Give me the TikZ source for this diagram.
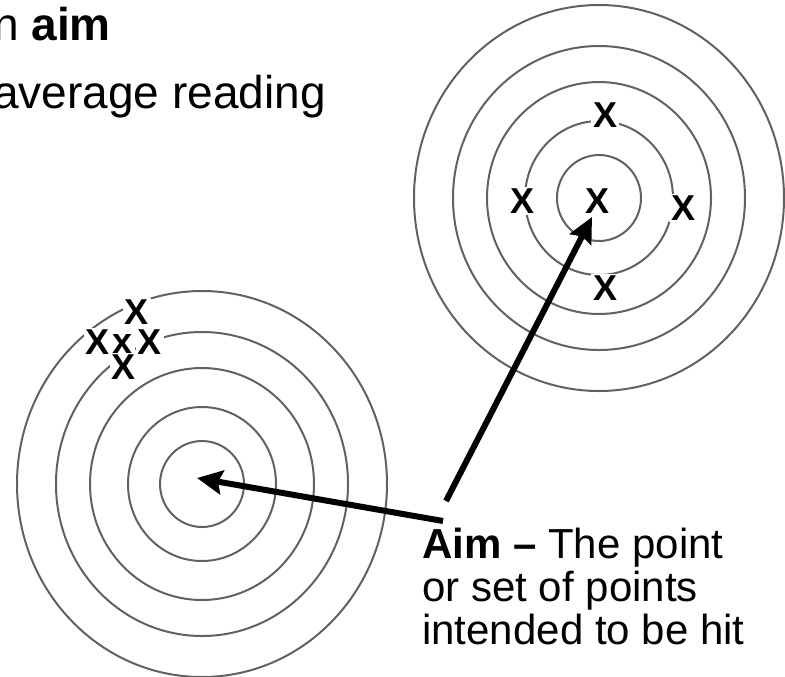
\documentclass[tikz,border=0pt]{standalone}
\usepackage{fontspec}
\setmainfont{Liberation Sans}
\usetikzlibrary{arrows.meta}

\begin{document}
\begin{tikzpicture}[x=0.75pt, y=-0.75pt,
  % Target rings and hit marks
  ring/.style={draw=black!62, line width=1.5pt},
  hitmark/.style={rectangle, fill=white, inner sep=1.5pt, font=\fontsize{27}{27}\selectfont\bfseries},
  % Text blocks
  headline/.style={anchor=base west, inner sep=0pt, align=left, font=\fontsize{34.5}{38.25}\selectfont},
  definition/.style={anchor=base west, inner sep=0pt, align=left, font=\fontsize{31.5}{32.25}\selectfont},
  % Thick pointer arrows
  pointer/.style={-{Stealth[length=19pt, width=18pt, inset=3pt]}, line width=4.5pt, black}
]

% Layer 1: Frame of the picture
\useasboundingbox (0,0) rectangle (785,676);
\clip (0,0) rectangle (785,676);

% Layer 2: Target centres and arrow ends
\coordinate (ctrR) at (599,198);
\coordinate (ctrL) at (202,484);
\coordinate (tipR) at (592,217);
\coordinate (tipL) at (197,478);
\coordinate (tailR) at (446,501);
\coordinate (tailL) at (443,521);

% Layer 3: Concentric rings of both targets
\foreach \rx/\ry in {42/43, 74/77, 112/116, 146/152, 185/193}{
  \draw[ring] (ctrR) ellipse [x radius=\rx, y radius=\ry];
  \draw[ring] (ctrL) ellipse [x radius=\rx, y radius=\ry];
}

% Layer 4: Hits spread round the centre (right target)
\node[hitmark] (hitTop) at (605,115) {X};
\node[hitmark] (hitLeft) at (522,201) {X};
\node[hitmark] (hitMid) at (597,201) {X};
\node[hitmark] (hitRight) at (683,208) {X};
\node[hitmark] (hitLow) at (605,288) {X};

% Hits bunched off centre (left target)
\node[hitmark] (clTop) at (137,312) {X};
\node[hitmark] (clLeft) at (98,342) {X};
\node[hitmark] (clMid) at (123,344) {x};
\node[hitmark] (clRight) at (150,342) {X};
\node[hitmark] (clLow) at (124,367) {X};

% Layer 5: Text (base anchor sits on the last line)
\node[headline] (head) at (-7,108) {n \textbf{aim}\\[12.75pt]average reading};
\node[definition] (aimdef) at (422,644) {\textbf{Aim --} The point\\or set of points\\intended to be hit};

% Layer 6: Arrows from the definition to the target centres
\draw[pointer] (tailR) -- (tipR);
\draw[pointer] (tailL) -- (tipL);

\end{tikzpicture}
\end{document}
